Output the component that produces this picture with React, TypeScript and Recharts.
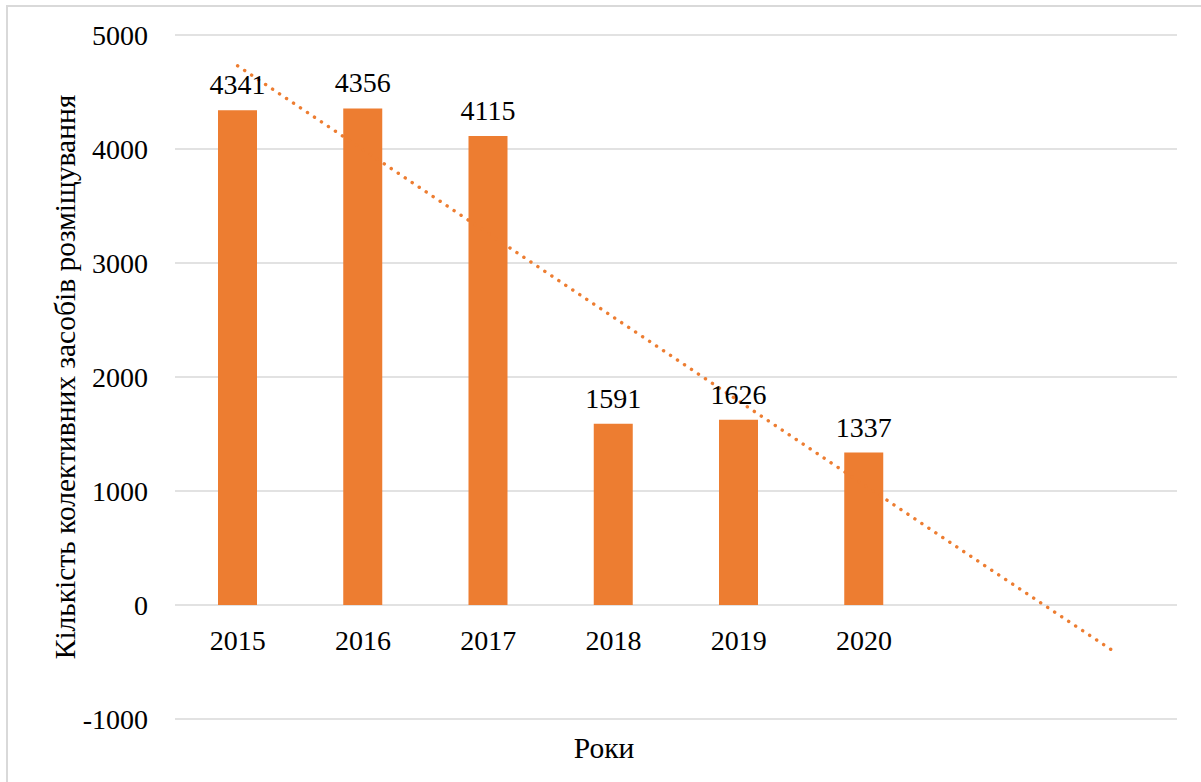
import React from 'react';
import {
  ComposedChart,
  Bar,
  Line,
  XAxis,
  YAxis,
  CartesianGrid,
  LabelList,
} from 'recharts';

// Categories: six observed years plus two forecast periods of the trendline
const categories = ['2015', '2016', '2017', '2018', '2019', '2020', '', ''];
// Number of collective accommodation establishments
const barValues: (number | null)[] = [4341, 4356, 4115, 1591, 1626, 1337, null, null];
// Linear trendline values (dotted line)
const trendValues = [4730, 3995, 3260, 2525, 1790, 1055, 320, -410];
const yTicks = [-1000, 0, 1000, 2000, 3000, 4000, 5000];

const data = categories.map((c, i) => ({
  year: c,
  value: barValues[i],
  trend: trendValues[i],
}));

const FONT = 'Liberation Serif';
const FS = 28;
const FS_TITLE = 29.5;
const ORANGE = '#ED7D31';
const GRID = '#d9d9d9';

const YTitle = (props: any) => {
  const vb = props.viewBox || {};
  const cx = vb.x + 65;
  const cy = vb.y + vb.height / 2;
  return (
    <text
      x={cx}
      y={cy}
      dy="0.355em"
      transform={`rotate(-90, ${cx}, ${cy})`}
      textAnchor="middle"
      fontFamily={FONT}
      fontSize={FS_TITLE}
      fill="#000"
    >
      Кількість колективних засобів розміщування
    </text>
  );
};

const XTitle = (props: any) => {
  const vb = props.viewBox || {};
  const cx = vb.x + vb.width / 2 - 72;
  const y = vb.y + vb.height - 24;
  return (
    <text x={cx} y={y} textAnchor="middle" fontFamily={FONT} fontSize={FS_TITLE} fill="#000">
      Роки
    </text>
  );
};

const XTick = (props: any) => {
  const { x, y, payload } = props;
  return (
    <text x={x} y={y} dy="0.71em" textAnchor="middle" fontFamily={FONT} fontSize={FS} fill="#000">
      {payload.value}
    </text>
  );
};

const YTick = (props: any) => {
  const { x, y, payload } = props;
  return (
    <text x={x} y={y} dy="0.355em" textAnchor="end" fontFamily={FONT} fontSize={FS} fill="#000">
      {payload.value}
    </text>
  );
};

const BarLabel = (props: any) => {
  const { x, y, width, value } = props;
  if (value == null || value === '') return null;
  return (
    <text
      x={Number(x) + Number(width) / 2}
      y={Number(y) - 16}
      textAnchor="middle"
      fontFamily={FONT}
      fontSize={FS}
      fill="#000"
    >
      {value}
    </text>
  );
};

export default function App() {
  return (
    <div
      style={{
        position: 'absolute',
        left: 0,
        top: 0,
        width: 1201,
        height: 782,
        overflow: 'hidden',
        background: '#fff',
      }}
    >
      <div
        style={{
          position: 'absolute',
          left: 6,
          top: 5,
          width: 1400,
          height: 1000,
          border: `2px solid ${GRID}`,
          boxSizing: 'border-box',
        }}
      />
      <div style={{ position: 'absolute', left: 0, top: 0 }}>
        <ComposedChart
          width={1201}
          height={782}
          data={data}
          margin={{ top: 35, right: 24, bottom: 0, left: 0 }}
          barSize={39}
        >
          <CartesianGrid vertical={false} stroke={GRID} strokeWidth={1.5} />
          <XAxis
            dataKey="year"
            height={63}
            axisLine={false}
            tickLine={false}
            tickSize={0}
            tickMargin={-89}
            interval={0}
            tick={<XTick />}
            label={<XTitle />}
          />
          <YAxis
            width={175}
            domain={[-1000, 5000]}
            ticks={yTicks}
            interval={0}
            axisLine={false}
            tickLine={false}
            tickSize={0}
            tickMargin={27}
            tick={<YTick />}
            label={<YTitle />}
          />
          <Line
            dataKey="trend"
            type="linear"
            stroke={ORANGE}
            strokeWidth={3.4}
            strokeDasharray="0.1 8.3"
            strokeLinecap="round"
            dot={false}
            activeDot={false}
            isAnimationActive={false}
          />
          <Bar dataKey="value" fill={ORANGE} isAnimationActive={false}>
            <LabelList dataKey="value" content={<BarLabel />} />
          </Bar>
        </ComposedChart>
      </div>
    </div>
  );
}
